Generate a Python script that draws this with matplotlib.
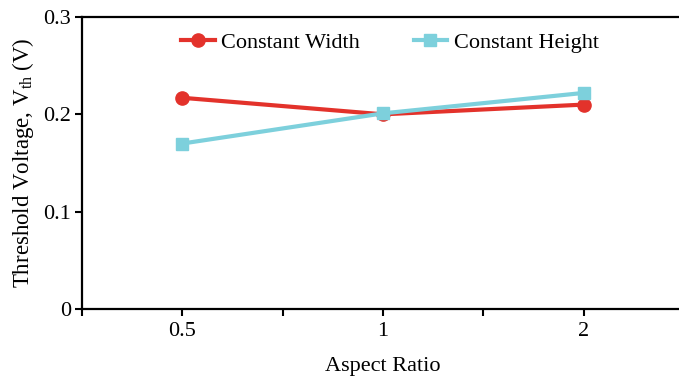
import matplotlib
matplotlib.use("Agg")
from matplotlib import pyplot as plt
from matplotlib.ticker import FixedLocator, FuncFormatter

plt.rcParams['font.family'] = ['Liberation Serif', 'DejaVu Serif']
plt.rcParams['mathtext.fontset'] = 'custom'
plt.rcParams['mathtext.rm'] = 'Liberation Serif'
plt.rcParams['mathtext.it'] = 'Liberation Serif:italic'

ratios = ['0.5', '1', '2']
const_width = [0.217, 0.200, 0.210]
const_height = [0.170, 0.201, 0.222]

red = '#e3322b'
cyan = '#7dd0dc'

fig = plt.figure(figsize=(6.79, 3.82), dpi=100)
# right edge runs slightly past the canvas, so no right spine shows
ax = fig.add_axes([82 / 679, 1 - 309 / 382, 602 / 679, 292 / 382])

xs = range(len(ratios))
ax.plot(xs, const_width, color=red, lw=3.0, marker='o', ms=9.5,
        label='Constant Width', zorder=3)
ax.plot(xs, const_height, color=cyan, lw=3.0, marker='s', ms=8,
        label='Constant Height', zorder=4)

ax.set_xlim(-0.5, 2.5)
ax.set_ylim(0, 0.3)
ax.set_xticks(list(xs))
ax.set_xticklabels(ratios)
ax.xaxis.set_minor_locator(FixedLocator([-0.5, 0.5, 1.5, 2.5]))
ax.set_yticks([0, 0.1, 0.2, 0.3])
ax.yaxis.set_major_formatter(FuncFormatter(lambda v, p: '0' if v == 0 else f'{v:.1f}'))

for s in ax.spines.values():
    s.set_linewidth(1.6)
ax.tick_params(axis='both', which='both', direction='out', length=5,
               width=1.5, labelsize=16, pad=3)
ax.tick_params(axis='x', which='major', pad=4)

ax.set_xlabel('Aspect Ratio', fontsize=16, labelpad=12)
ax.set_ylabel('Threshold Voltage, V$_{\\mathrm{th}}$ (V)', fontsize=16.5, labelpad=5)

ax.legend(loc='center', bbox_to_anchor=((390 - 82) / 602, 1 - (43 - 17) / 292), ncol=2,
          frameon=False, fontsize=16, handlelength=1.5, handletextpad=0.3,
          columnspacing=2.4, borderpad=0)

fig.savefig('out.png', dpi=100)
